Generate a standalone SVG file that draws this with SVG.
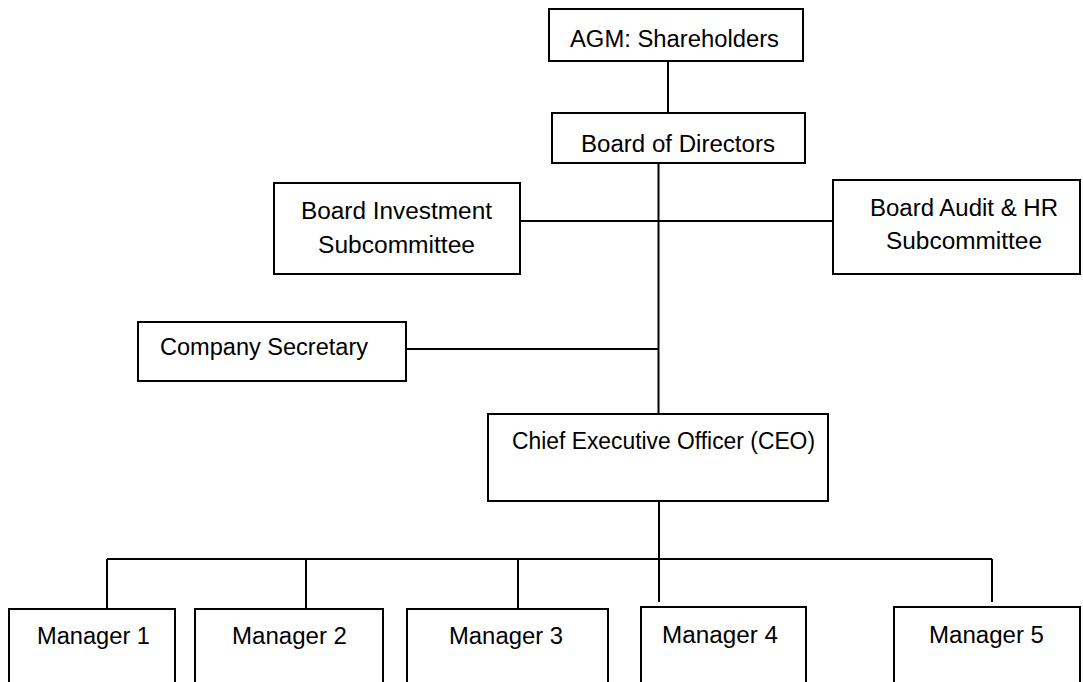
<svg xmlns="http://www.w3.org/2000/svg" width="1083" height="682" viewBox="0 0 1083 682">
<style>
.box{fill:#fff;stroke:#000;stroke-width:2}
.t{font-family:"Liberation Sans",Arial,sans-serif;font-size:23.5px;fill:#000}
.c line{stroke:#000;stroke-width:2}
</style>
<rect width="1083" height="682" fill="#fff"/>
<g class="c" id="connectors">
<line x1="668" y1="61" x2="668" y2="113"/>
<line x1="658.5" y1="163" x2="658.5" y2="414"/>
<line x1="520" y1="221" x2="833" y2="221"/>
<line x1="406" y1="349" x2="658.5" y2="349"/>
<line x1="659" y1="501" x2="659" y2="559"/>
<line x1="107" y1="559" x2="992" y2="559"/>
<line x1="107" y1="559" x2="107" y2="609"/>
<line x1="306" y1="559" x2="306" y2="609"/>
<line x1="518" y1="559" x2="518" y2="609"/>
<line x1="659" y1="559" x2="659" y2="602"/>
<line x1="992" y1="559" x2="992" y2="602"/>
</g>
<g id="agm"><rect class="box" x="549" y="9" width="254" height="52"/><text class="t" x="570" y="47" textLength="209" lengthAdjust="spacingAndGlyphs">AGM: Shareholders</text></g>
<g id="board"><rect class="box" x="552" y="113" width="253" height="50"/><text class="t" x="581" y="152" textLength="194" lengthAdjust="spacingAndGlyphs">Board of Directors</text></g>
<g id="bi"><rect class="box" x="274" y="183" width="246" height="91"/><text class="t" x="301" y="219" textLength="191" lengthAdjust="spacingAndGlyphs">Board Investment</text><text class="t" x="318" y="253" textLength="157" lengthAdjust="spacingAndGlyphs">Subcommittee</text></g>
<g id="ba"><rect class="box" x="833" y="180" width="247" height="94"/><text class="t" x="870" y="216" textLength="188" lengthAdjust="spacingAndGlyphs">Board Audit &amp; HR</text><text class="t" x="886" y="249" textLength="156" lengthAdjust="spacingAndGlyphs">Subcommittee</text></g>
<g id="cs"><rect class="box" x="138" y="322" width="268" height="59"/><text class="t" x="160" y="355" textLength="208" lengthAdjust="spacingAndGlyphs">Company Secretary</text></g>
<g id="ceo"><rect class="box" x="488" y="414" width="340" height="87"/><text class="t" x="512" y="449" textLength="303" lengthAdjust="spacingAndGlyphs">Chief Executive Officer (CEO)</text></g>
<g id="m1"><rect class="box" x="9" y="609" width="166" height="90"/><text class="t" x="37" y="644" textLength="113" lengthAdjust="spacingAndGlyphs">Manager 1</text></g>
<g id="m2"><rect class="box" x="195" y="609" width="188" height="90"/><text class="t" x="232" y="644" textLength="115" lengthAdjust="spacingAndGlyphs">Manager 2</text></g>
<g id="m3"><rect class="box" x="407" y="609" width="201" height="90"/><text class="t" x="449" y="644" textLength="114" lengthAdjust="spacingAndGlyphs">Manager 3</text></g>
<g id="m4"><rect class="box" x="641" y="607" width="165" height="90"/><text class="t" x="662" y="643" textLength="116" lengthAdjust="spacingAndGlyphs">Manager 4</text></g>
<g id="m5"><rect class="box" x="894" y="607" width="186" height="90"/><text class="t" x="929" y="643" textLength="115" lengthAdjust="spacingAndGlyphs">Manager 5</text></g>
</svg>
